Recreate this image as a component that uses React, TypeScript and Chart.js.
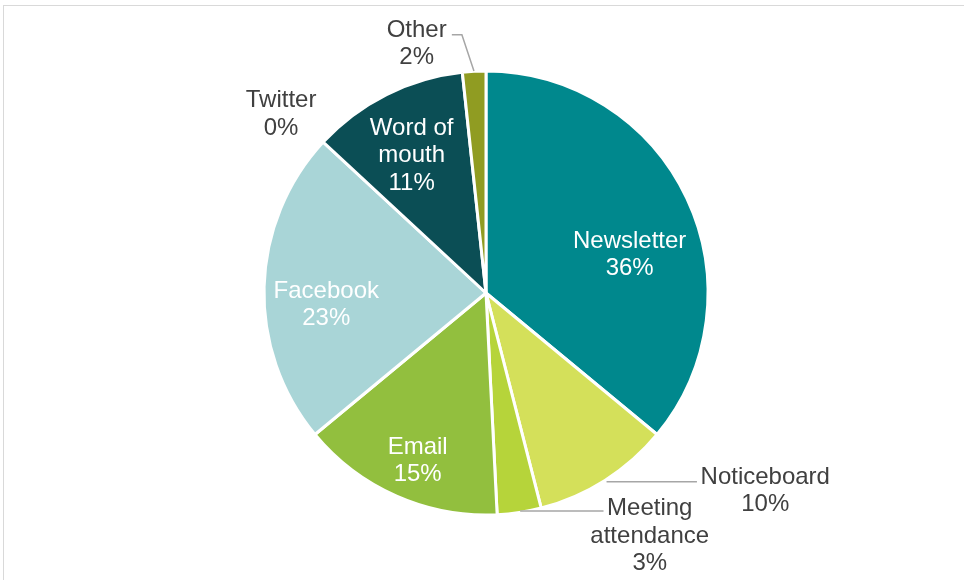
import React, { useEffect, useRef } from "react";
import { Chart, registerables } from "chart.js";

Chart.register(...registerables);

const categories = [
  "Newsletter",
  "Noticeboard",
  "Meeting attendance",
  "Email",
  "Facebook",
  "Twitter",
  "Word of mouth",
  "Other",
];
const values = [36.0, 10.0, 3.2, 14.8, 22.9, 0, 11.4, 1.7];
const colors = [
  "#00888D",
  "#D4E05A",
  "#B6D43A",
  "#92BF3E",
  "#A9D5D7",
  "#6FA8B0",
  "#0B4E55",
  "#909C22",
];
// label text lines (category part) per slice
const labelLines = [
  ["Newsletter"],
  ["Noticeboard"],
  ["Meeting", "attendance"],
  ["Email"],
  ["Facebook"],
  ["Twitter"],
  ["Word of", "mouth"],
  ["Other"],
];
const insideLabel = [true, false, false, true, true, false, true, false];

// label block centres relative to pie centre, in units of a 221px radius
const labelOffsets: [number, number][] = [
  [143, -38],
  [278, 197],
  [163, 242],
  [-68, 167],
  [-159, 12],
  [-204, -178],
  [-74, -137],
  [-69, -248],
];
// leader lines (relative to pie centre), null when none
const leaders: ([number, number][] | null)[] = [
  null,
  [[120, 188], [210, 188]],
  [[34, 217], [117, 217]],
  null,
  null,
  null,
  null,
  [[-34, -257], [-24, -257], [-12, -221]],
];

const labelPlugin = {
  id: "pieLabels",
  afterDatasetsDraw(chart: any) {
    const ctx = chart.ctx;
    const meta = chart.getDatasetMeta(0);
    const arc0 = meta.data[0];
    if (!arc0) return;
    const cx = arc0.x;
    const cy = arc0.y;
    const s = arc0.outerRadius / 221;
    const total = values.reduce((a, b) => a + b, 0);
    ctx.save();
    ctx.font = "24px 'Liberation Sans', Arial, sans-serif";
    ctx.textAlign = "center";
    ctx.textBaseline = "middle";
    const lh = 27.5;
    categories.forEach((_, i) => {
      const pct = Math.round((values[i] / total) * 100) + "%";
      const lines = [...labelLines[i], pct];
      const [ox, oy] = labelOffsets[i];
      const x = cx + ox * s;
      const y0 = cy + oy * s - ((lines.length - 1) * lh) / 2;
      ctx.fillStyle = insideLabel[i] ? "#FFFFFF" : "#404040";
      lines.forEach((t, k) => ctx.fillText(t, x, y0 + k * lh));
      const ld = leaders[i];
      if (ld) {
        ctx.strokeStyle = "#A6A6A6";
        ctx.lineWidth = 1.5;
        ctx.beginPath();
        ld.forEach(([px, py], k) => {
          const X = cx + px * s;
          const Y = cy + py * s;
          if (k === 0) ctx.moveTo(X, Y);
          else ctx.lineTo(X, Y);
        });
        ctx.stroke();
      }
    });
    ctx.restore();
  },
};

export default function App() {
  const ref = useRef<HTMLCanvasElement | null>(null);
  useEffect(() => {
    if (!ref.current) return;
    const chart = new Chart(ref.current, {
      type: "pie",
      data: {
        labels: categories,
        datasets: [
          {
            data: values,
            backgroundColor: colors,
            borderColor: "#FFFFFF",
            borderWidth: 3,
          },
        ],
      },
      options: {
        animation: false,
        responsive: true,
        maintainAspectRatio: false,
        radius: 222,
        layout: { padding: { top: 71, bottom: 65, left: 8, right: 0 } },
        plugins: {
          legend: { display: false },
          tooltip: { enabled: false },
        },
      },
      plugins: [labelPlugin],
    });
    return () => chart.destroy();
  }, []);
  return (
    <div
      style={{
        position: "fixed",
        left: 0,
        top: 0,
        width: 964,
        height: 580,
        background: "#FFFFFF",
      }}
    >
      <div
        style={{
          position: "absolute",
          left: 3,
          top: 5,
          right: 0,
          bottom: 0,
          borderTop: "1.5px solid #D9D9D9",
          borderLeft: "1.5px solid #D9D9D9",
        }}
      />
      <canvas ref={ref} style={{ position: "absolute", left: 0, top: 0 }} />
    </div>
  );
}
